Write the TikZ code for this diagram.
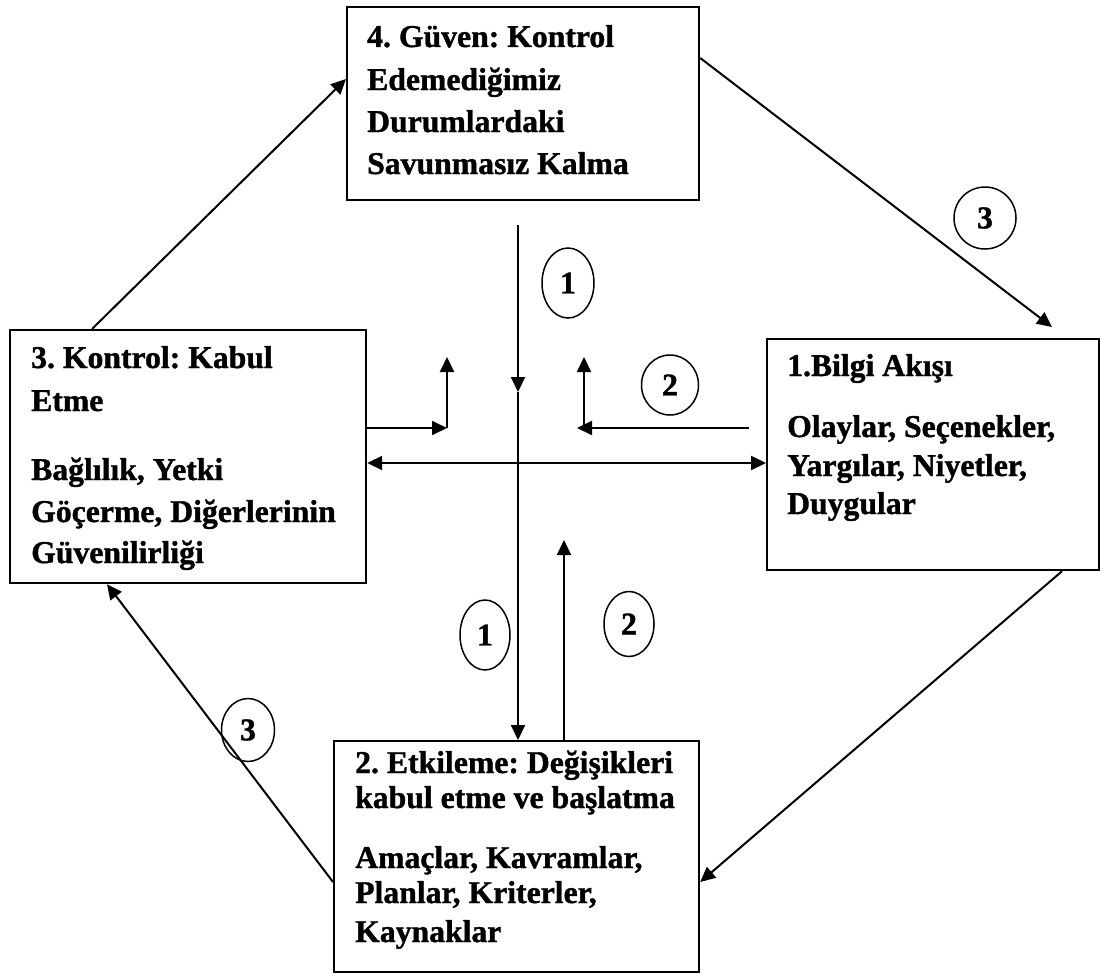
\documentclass[tikz,border=0pt]{standalone}
\usepackage{fontspec}
\setmainfont{Liberation Serif}[BoldFeatures={FakeBold=1.2}]
\usetikzlibrary{arrows.meta,shapes.geometric}
\frenchspacing
\begin{document}
\begin{tikzpicture}[x=1pt,y=-1pt,
  box/.style={draw, line width=2.2pt, inner sep=0pt, anchor=north west},
  txt/.style={anchor=base west, inner sep=0pt, font=\fontsize{31.7}{40}\selectfont\bfseries},
  arr/.style={line width=2pt, -{Triangle[length=15pt,width=14pt]}},
  darr/.style={line width=2pt, {Triangle[length=15pt,width=14pt]}-{Triangle[length=15pt,width=14pt]}},
  num/.style={draw, ellipse, line width=1.5pt, inner sep=0pt, font=\fontsize{31.7}{40}\selectfont\bfseries},
]
\useasboundingbox (0,0) rectangle (1105,974);

% four stages
\node[box, minimum width=352pt, minimum height=193pt] (b4) at (346,6) {};
\node[box, minimum width=356pt, minimum height=253pt] (b3) at (9,329) {};
\node[box, minimum width=332pt, minimum height=231pt] (b1) at (766,338) {};
\node[box, minimum width=365pt, minimum height=231pt] (b2) at (333,740) {};

% stage 4
\node[txt] (t41) at (367,47)  {4. Güven: Kontrol};
\node[txt] (t42) at (367,90)  {Edemediğimiz};
\node[txt] (t43) at (367,132) {Durumlardaki};
\node[txt] (t44) at (367,174) {Savunmasız Kalma};

% stage 3
\node[txt] (t31) at (31,368) {3. Kontrol: Kabul};
\node[txt] (t32) at (31,411) {Etme};
\node[txt] (t33) at (31,480) {Bağlılık, Yetki};
\node[txt] (t34) at (31,522) {Göçerme, Diğerlerinin};
\node[txt] (t35) at (31,563) {Güvenilirliği};

% stage 1
\node[txt] (t11) at (787,376) {1.Bilgi Akışı};
\node[txt] (t12) at (787,437) {Olaylar, Seçenekler,};
\node[txt] (t13) at (787,476) {Yargılar, Niyetler,};
\node[txt] (t14) at (787,514) {Duygular};

% stage 2
\node[txt] (t21) at (355,773) {2. Etkileme: Değişikleri};
\node[txt] (t22) at (355,808) {kabul etme ve başlatma};
\node[txt] (t23) at (355,868) {Amaçlar, Kavramlar,};
\node[txt] (t24) at (355,903) {Planlar, Kriterler,};
\node[txt] (t25) at (355,942) {Kaynaklar};

% outer cycle
\draw[arr] ([xshift=83pt]b3.north west) -- ([yshift=-73pt]b4.north west);
\draw[arr] ([yshift=-52pt]b4.north east) -- ([xshift=286pt,yshift=11pt]b1.north west);
\draw[arr] ([xshift=296pt]b1.south west) -- ([yshift=-142pt]b2.north east);
\draw[arr] ([yshift=-142pt]b2.north west) -- ([xshift=98pt]b3.south west);

% inner flows
\coordinate (v1top) at (518,225);
\coordinate (v1mid) at (518,392);
\coordinate (v2top) at (564,540);
\draw[arr] (v1top) -- (v1mid);
\draw[arr] (v1mid) -- ([xshift=185pt]b2.north west);
\draw[arr] ([xshift=231pt]b2.north west) -- (v2top);

\draw[darr] ([yshift=-134pt]b3.north east) -- ([yshift=-125pt]b1.north west);

\coordinate (lc) at (447,428);
\coordinate (lt) at (447,357);
\draw[arr] ([yshift=-99pt]b3.north east) -- (lc);
\draw[arr] (lc) -- (lt);

\coordinate (rs) at (749,428);
\coordinate (rc) at (577,428);
\coordinate (rb) at (584,428);
\coordinate (rt) at (584,357);
\draw[arr] (rs) -- (rc);
\draw[arr] (rb) -- (rt);

% flow numbers
\node[num, minimum width=52pt, minimum height=70pt] (c1a) at (568,283) {1};
\node[num, minimum width=57pt, minimum height=60pt] (c2a) at (670,385) {2};
\node[num, minimum width=50pt, minimum height=70pt] (c1b) at (485,635) {1};
\node[num, minimum width=50pt, minimum height=65pt] (c2b) at (629,624) {2};
\node[num, minimum width=62pt, minimum height=62pt] (c3a) at (985,218) {3};
\node[num, minimum width=53pt, minimum height=63pt] (c3b) at (248,730) {3};
\end{tikzpicture}
\end{document}
